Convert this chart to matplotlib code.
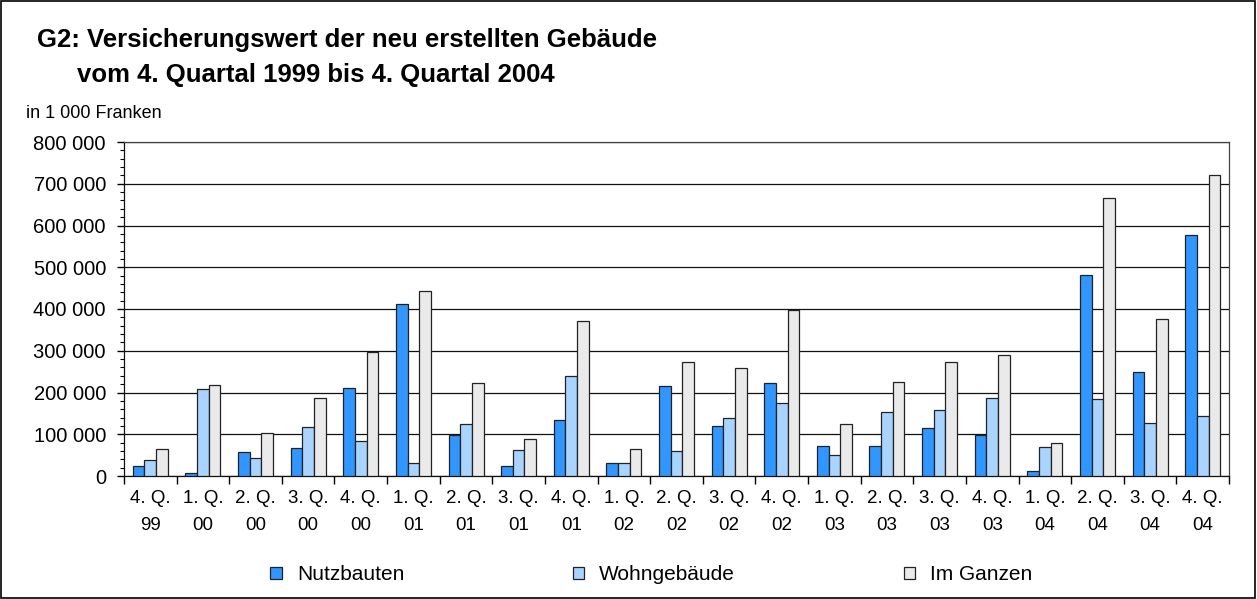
import numpy as np
import matplotlib.pyplot as plt
from matplotlib.ticker import FixedLocator, MultipleLocator, FuncFormatter
from matplotlib.patches import Rectangle, Patch

plt.rcParams['font.family'] = ['Liberation Sans', 'DejaVu Sans']

# Quartale (4. Q. 1999 bis 4. Q. 2004)
quartale = ['4. Q.\n99', '1. Q.\n00', '2. Q.\n00', '3. Q.\n00', '4. Q.\n00',
            '1. Q.\n01', '2. Q.\n01', '3. Q.\n01', '4. Q.\n01',
            '1. Q.\n02', '2. Q.\n02', '3. Q.\n02', '4. Q.\n02',
            '1. Q.\n03', '2. Q.\n03', '3. Q.\n03', '4. Q.\n03',
            '1. Q.\n04', '2. Q.\n04', '3. Q.\n04', '4. Q.\n04']

# Versicherungswert in 1 000 Franken (aus der Grafik geschaetzt)
nutzbauten = [25000, 8000, 58000, 68000, 210000,
              412000, 98000, 25000, 133000,
              32000, 215000, 119000, 222000,
              73000, 71000, 114000, 99000,
              11000, 481000, 250000, 577000]
wohngebaeude = [38000, 208000, 44000, 117000, 85000,
                30000, 124000, 62000, 239000,
                32000, 59000, 138000, 174000,
                50000, 153000, 159000, 188000,
                69000, 184000, 127000, 143000]
im_ganzen = [65000, 217000, 102000, 186000, 297000,
             442000, 222000, 88000, 371000,
             65000, 273000, 258000, 398000,
             124000, 225000, 273000, 289000,
             80000, 666000, 376000, 720000]

serien = ['Nutzbauten', 'Wohngebäude', 'Im Ganzen']
farben = ['#3296FF', '#A8D4FF', '#EAEAEA']

fig = plt.figure(figsize=(12.57, 5.99), dpi=100)
ax = fig.add_axes([124 / 1257, 1 - 476 / 599, (1229 - 124) / 1257, (476 - 142) / 599])

x = np.arange(len(quartale))
breite = 0.222
for k, (werte, farbe) in enumerate(zip([nutzbauten, wohngebaeude, im_ganzen], farben)):
    ax.bar(x + (k - 1) * breite, werte, width=breite, color=farbe,
           edgecolor='#222222', linewidth=0.9, zorder=3)

# Achsen
ax.set_xlim(-0.5, len(quartale) - 0.5)
ax.set_ylim(0, 800000)
ax.yaxis.set_major_locator(MultipleLocator(100000))
ax.yaxis.set_minor_locator(MultipleLocator(20000))
ax.yaxis.set_major_formatter(FuncFormatter(lambda v, p: f'{int(v):,}'.replace(',', ' ')))
ax.grid(axis='y', which='major', color='#111111', linewidth=0.9, zorder=1)

ax.xaxis.set_major_locator(FixedLocator(np.arange(-0.5, len(quartale), 1.0)))
ax.xaxis.set_major_formatter(FuncFormatter(lambda v, p: ''))
ax.xaxis.set_minor_locator(FixedLocator(x))
ax.set_xticklabels(quartale, minor=True)
ax.tick_params(axis='x', which='major', length=6, width=1, direction='out')
ax.tick_params(axis='x', which='minor', length=0, pad=10, labelsize=13.5)
ax.tick_params(axis='y', which='major', length=5, width=1, labelsize=14.5, pad=8)
ax.tick_params(axis='y', which='minor', length=3, width=0.8)
for lbl in ax.get_xticklabels(minor=True):
    lbl.set_linespacing(1.75)

for s in ax.spines.values():
    s.set_linewidth(0.9)
    s.set_color('#111111')
ax.spines['top'].set_color('#444444')
ax.spines['right'].set_color('#444444')

# Titel und Einheit
fig.text(37 / 1257, 1 - 40 / 599, 'G2: Versicherungswert der neu erstellten Gebäude',
         fontsize=18.5, fontweight='bold', va='center', ha='left')
fig.text(77 / 1257, 1 - 75 / 599, 'vom 4. Quartal 1999 bis 4. Quartal 2004',
         fontsize=18.5, fontweight='bold', va='center', ha='left')
fig.text(26 / 1257, 1 - 114 / 599, 'in 1 000 Franken', fontsize=13, va='center', ha='left')

# Legende
griffe = [Patch(facecolor=f, edgecolor='#222222', linewidth=0.9) for f in farben]
fig.legend(griffe, serien, loc='center left', bbox_to_anchor=(262 / 1257, 1 - 575 / 599),
           ncol=3, frameon=False, fontsize=15, handlelength=0.55, handleheight=0.55,
           handletextpad=0.72, columnspacing=8.1, borderaxespad=0)

# Rahmen um die ganze Grafik
fig.patches.append(Rectangle((0.0005, 0.001), 0.998, 0.997, transform=fig.transFigure,
                             fill=False, edgecolor='black', linewidth=1.2))

fig.savefig('out.png', dpi=100)
